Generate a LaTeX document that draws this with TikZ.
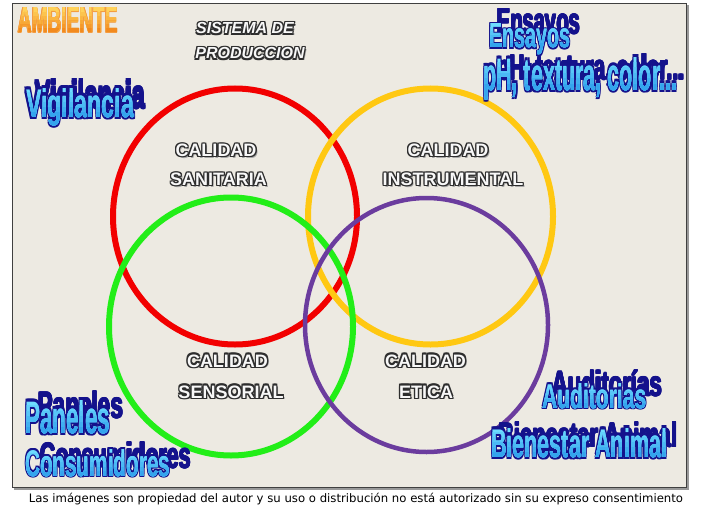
\documentclass[tikz,border=0pt]{standalone}
\usepackage{fontspec}
\usepackage{graphicx}
\newfontfamily\fwa{Liberation Sans}
\newfontfamily\fcap{DejaVu Sans}
\definecolor{panel}{HTML}{EDEAE2}
\definecolor{wanavy}{HTML}{14128C}
\definecolor{watop}{HTML}{6EDCFF}
\definecolor{wabot}{HTML}{34A4EE}
\definecolor{ambtop}{HTML}{FFD25A}
\definecolor{ambbot}{HTML}{F28A1E}
\definecolor{cred}{HTML}{F20000}
\definecolor{cyel}{HTML}{FFC812}
\definecolor{cgrn}{HTML}{22EE18}
\definecolor{cpur}{HTML}{6B3C9E}
\definecolor{lblout}{HTML}{2E2E2E}
\definecolor{lblfill}{HTML}{F8F8F8}
\newcommand\outl[4]{\begingroup\setbox0=\hbox{#4}%
 \setbox2=\hbox{%
 \rlap{\color{#2}\kern-#1\copy0}\rlap{\color{#2}\kern#1\copy0}%
 \rlap{\color{#2}\raise#1\copy0}\rlap{\color{#2}\lower#1\copy0}%
 \rlap{\color{#2}\kern-#1\raise#1\copy0}\rlap{\color{#2}\kern#1\raise#1\copy0}%
 \rlap{\color{#2}\kern-#1\lower#1\copy0}\rlap{\color{#2}\kern#1\lower#1\copy0}%
 {\color{#3}\copy0}}%
 \ht2=\ht0 \dp2=\dp0 \box2\endgroup}
\newcommand\outlsh[1]{\begingroup\setbox0=\hbox{#1}%
 \setbox2=\hbox{\rlap{\color{black!35}\kern1.8pt\lower1.8pt\copy0}\outl{1.1pt}{lblout}{lblfill}{\copy0}}%
 \ht2=\ht0 \dp2=\dp0 \box2\endgroup}
\newcommand\wfont{\fwa\bfseries\fontsize{30}{30}\selectfont}
\newcommand\waword[8]{% name, x, top, base, right, text, topcol, botcol
 \pgfmathsetmacro\ww{#5-#2}\pgfmathsetmacro\hh{#4-#3}%
 \node[anchor=base west,inner sep=0pt] (#1) at (#2,#4) {\resizebox{\ww pt}{\hh pt}{\outl{1.6pt}{wanavy}{#7}{\wfont #6}}};
 \foreach \k in {1,...,5}{%
  \pgfmathtruncatemacro\pc{\k*20}%
  \begin{scope}
   \clip (#2-6,#3+\hh*\k/6) rectangle (#5+6,#4+20);
   \node[anchor=base west,inner sep=0pt] (#1g\k) at (#2,#4) {\resizebox{\ww pt}{\hh pt}{\color{#8!\pc!#7}\wfont #6}};
  \end{scope}}%
}
\newcommand\wadark[6]{%
 \pgfmathsetmacro\ww{#5-#2}\pgfmathsetmacro\hh{#4-#3}%
 \node[anchor=base west,inner sep=0pt] (#1) at (#2,#4) {\resizebox{\ww pt}{\hh pt}{\outl{0.8pt}{wanavy}{wanavy}{\wfont #6}}};
}
\tikzset{
  ring/.style={line width=6pt},
  lbl/.style={anchor=base,inner sep=0pt,font=\fwa\bfseries\fontsize{18}{18}\selectfont},
  sis/.style={anchor=base,inner sep=0pt,font=\fwa\bfseries\itshape\fontsize{16}{16}\selectfont}
}
\begin{document}
\begin{tikzpicture}[x=1pt,y=-1pt]
\useasboundingbox (0,0) rectangle (703,508);
\fill[white] (0,0) rectangle (703,508);
% panel
\draw[black!40,line width=2pt] (14,489) -- (688,489) -- (688,5);
\draw[panel,fill=panel] (12,3) rectangle (686,487);
\draw[black!75,line width=0.8pt] (12,3) rectangle (686,487);
% rings
\draw[ring,cred] (235,216.5) ellipse [x radius=122pt, y radius=128pt];
\draw[ring,cyel] (430.5,216.5) ellipse [x radius=122.5pt, y radius=128pt];
\draw[ring,cgrn] (231,326.5) ellipse [x radius=122pt, y radius=129pt];
\draw[cpur,line width=4.5pt] (426.5,325) ellipse [x radius=121.5pt, y radius=127pt];
% labels
\node[lbl] (c1) at (216,156.5) {\outlsh{CALIDAD}};
\node[lbl] (s1) at (218.5,185.5) {\outlsh{SANITARIA}};
\node[lbl] (c2) at (448,156.5) {\outlsh{CALIDAD}};
\node[lbl] (s2) at (453,185.5) {\outlsh{INSTRUMENTAL}};
\node[lbl] (c3) at (227.5,367) {\outlsh{CALIDAD}};
\node[lbl] (s3) at (231,398) {\outlsh{SENSORIAL}};
\node[lbl] (c4) at (425.5,367) {\outlsh{CALIDAD}};
\node[lbl] (s4) at (426,398) {\outlsh{ETICA}};
\node[sis] (sis1) at (245,34) {\outlsh{SISTEMA DE}};
\node[sis] (sis2) at (250,59) {\outlsh{PRODUCCION}};
% AMBIENTE
\node[anchor=base west,inner sep=0pt] (amb) at (18,33) {\resizebox{100pt}{25pt}{\outl{0.7pt}{ambbot!85!white}{ambtop}{\wfont AMBIENTE}}};
\foreach \k in {1,...,5}{%
  \pgfmathtruncatemacro\pc{\k*20}%
  \begin{scope}
   \clip (10,8+25*\k/6) rectangle (125,50);
   \node[anchor=base west,inner sep=0pt] (ambg\k) at (18,33) {\resizebox{100pt}{25pt}{\color{ambbot!\pc!ambtop}\wfont AMBIENTE}};
  \end{scope}}
% word art
\wadark{vigd}{35}{80}{108}{145}{Vigilancia}
\waword{vig}{26}{88}{117}{134}{Vigilancia}{watop}{wabot}
\wadark{ensd}{497}{9}{34}{580}{Ensayos}
\waword{ens}{489}{24}{48}{570}{Ensayos}{watop}{wabot}
\wadark{phd}{497}{54}{80}{684}{pH, textura, color...}
\waword{ph}{483}{57}{90}{677}{pH, textura, color...}{watop}{wabot}
\wadark{pand}{38}{391}{418}{123}{Paneles}
\waword{pan}{25}{400}{433}{110}{Paneles}{watop}{wabot}
\wadark{cond}{40}{442}{468}{191}{Consumidores}
\waword{con}{25}{449}{476}{170}{Consumidores}{watop}{wabot}
\wadark{audd}{552}{370}{396}{662}{Auditorías}
\waword{aud}{542}{383}{408}{646}{Auditorias}{watop}{wabot}
\wadark{bied}{498}{422}{447}{677}{Bienestar Animal}
\waword{bie}{491}{428}{457}{667}{Bienestar Animal}{watop}{wabot}
% caption
\node[anchor=base,inner sep=0pt] (cap) at (356,502) {\resizebox{654pt}{!}{\fcap\fontsize{9}{9}\selectfont Las imágenes son propiedad del autor y su uso o distribución no está autorizado sin su expreso consentimiento}};
\end{tikzpicture}
\end{document}
